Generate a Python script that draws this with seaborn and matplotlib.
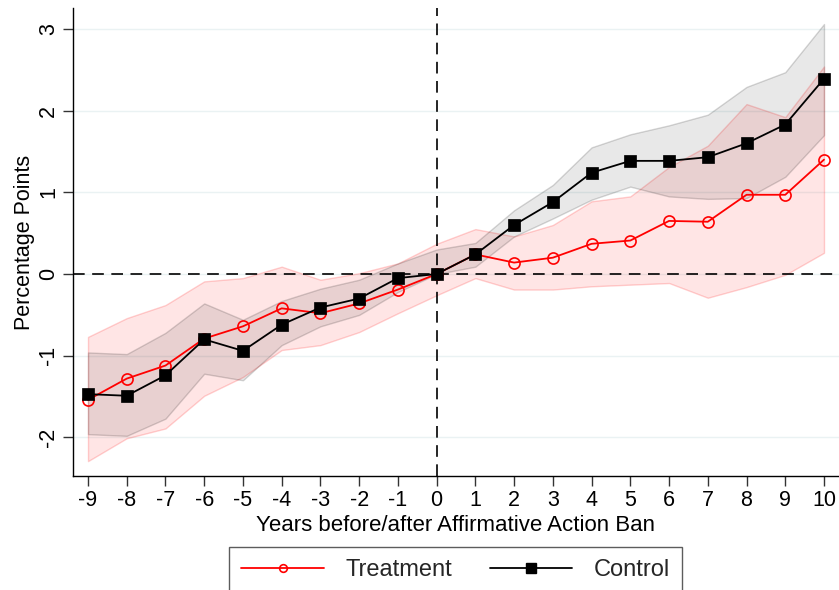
import matplotlib
matplotlib.use("Agg")
import matplotlib.pyplot as plt
from matplotlib.lines import Line2D
import pandas as pd
import seaborn as sns

# Event-study estimates with 95% confidence bands
years = list(range(-9, 11))
treatment = [-1.54, -1.28, -1.12, -0.79, -0.64, -0.42, -0.48, -0.36, -0.19, 0.00,
             0.24, 0.14, 0.20, 0.37, 0.41, 0.65, 0.64, 0.97, 0.97, 1.40]
treatment_lo = [-2.29, -2.01, -1.89, -1.49, -1.26, -0.93, -0.87, -0.71, -0.48, -0.26,
                -0.05, -0.19, -0.19, -0.15, -0.13, -0.11, -0.29, -0.16, -0.01, 0.26]
treatment_hi = [-0.77, -0.54, -0.38, -0.09, -0.05, 0.09, -0.07, 0.01, 0.13, 0.37,
                0.55, 0.46, 0.60, 0.89, 0.95, 1.31, 1.57, 2.08, 1.92, 2.54]
control = [-1.47, -1.49, -1.24, -0.80, -0.94, -0.62, -0.41, -0.30, -0.05, 0.00,
           0.24, 0.60, 0.88, 1.24, 1.385, 1.385, 1.43, 1.60, 1.83, 2.39]
control_lo = [-1.96, -1.98, -1.77, -1.22, -1.30, -0.87, -0.64, -0.50, -0.22, 0.00,
              0.09, 0.46, 0.68, 0.91, 1.07, 0.95, 0.92, 0.93, 1.19, 1.70]
control_hi = [-0.96, -0.98, -0.72, -0.36, -0.56, -0.33, -0.18, -0.07, 0.13, 0.30,
              0.38, 0.78, 1.09, 1.55, 1.71, 1.82, 1.95, 2.29, 2.47, 3.06]
series_labels = ["Treatment", "Control"]
y_ticks = [-2, -1, 0, 1, 2, 3]
x_title = "Years before/after Affirmative Action Ban"
y_title = "Percentage Points"

df = pd.DataFrame({
    "year": years,
    "treatment": treatment, "treatment_lo": treatment_lo, "treatment_hi": treatment_hi,
    "control": control, "control_lo": control_lo, "control_hi": control_hi,
})

sns.set_theme(style="white")
plt.rcParams["font.family"] = ["Liberation Sans", "DejaVu Sans"]

fig = plt.figure(figsize=(8.39, 5.90), dpi=100)
ax = fig.add_axes([73 / 839, 1 - 476 / 590, 1 - 73 / 839, (476 - 8) / 590])

# confidence bands
ax.fill_between(df["year"], df["treatment_lo"], df["treatment_hi"],
                facecolor=(1, 0, 0, 0.10), edgecolor=(1, 0, 0, 0.18), linewidth=1, zorder=2)
ax.fill_between(df["year"], df["control_lo"], df["control_hi"],
                facecolor=(0, 0, 0, 0.09), edgecolor=(0, 0, 0, 0.16), linewidth=1, zorder=2)

# reference lines
dash = (0, (7, 4.5))
ax.axhline(0, color="black", lw=1.2, ls=dash, zorder=3)
ax.axvline(0, color="black", lw=1.2, ls=dash, zorder=3)

# point estimates
sns.lineplot(data=df, x="year", y="treatment", ax=ax, color="red", lw=1.3,
             marker="o", markersize=8, markerfacecolor="none",
             markeredgecolor="red", markeredgewidth=1.2, zorder=5)
sns.lineplot(data=df, x="year", y="control", ax=ax, color="black", lw=1.3,
             marker="s", markersize=8.5, markerfacecolor="black",
             markeredgecolor="black", markeredgewidth=0.5, zorder=6)

ax.set_xlim(-9.387, 10.387)
ax.set_ylim(-2.472, 3.256)
ax.set_xticks(years)
ax.set_xticklabels([str(y) for y in years])
ax.set_yticks(y_ticks)
ax.set_yticklabels([str(t) for t in y_ticks], rotation=90, va="center")

ax.yaxis.grid(True, color=(234 / 255, 242 / 255, 243 / 255), lw=1)
ax.xaxis.grid(False)
ax.set_axisbelow(True)

for side in ["top", "right"]:
    ax.spines[side].set_visible(False)
for side in ["left", "bottom"]:
    ax.spines[side].set_color("black")
    ax.spines[side].set_linewidth(1)

ax.tick_params(axis="both", direction="out", length=7, width=1, color="#333333",
               labelsize=15.5, labelcolor="black", pad=3)
ax.tick_params(axis="x", bottom=True)
ax.tick_params(axis="y", left=True)

ax.set_xlabel(x_title, fontsize=16, labelpad=3, color="black")
ax.set_ylabel(y_title, fontsize=15.5, labelpad=2, color="black")

handles = [
    Line2D([], [], color="red", lw=1.3, marker="o", markersize=5.5,
           markerfacecolor="none", markeredgecolor="red", markeredgewidth=1.2),
    Line2D([], [], color="black", lw=1.3, marker="s", markersize=6.5,
           markerfacecolor="black", markeredgecolor="black"),
]
leg = fig.legend(handles, series_labels, loc="upper center",
                 bbox_to_anchor=(0.543, 1 - 547 / 590), ncol=2, frameon=True,
                 fancybox=False, edgecolor="#333333", fontsize=17,
                 handlelength=3.5, handletextpad=0.9, columnspacing=1.6,
                 borderpad=0.5, borderaxespad=0)
leg.get_frame().set_linewidth(1)

fig.savefig("out.png", dpi=100)
